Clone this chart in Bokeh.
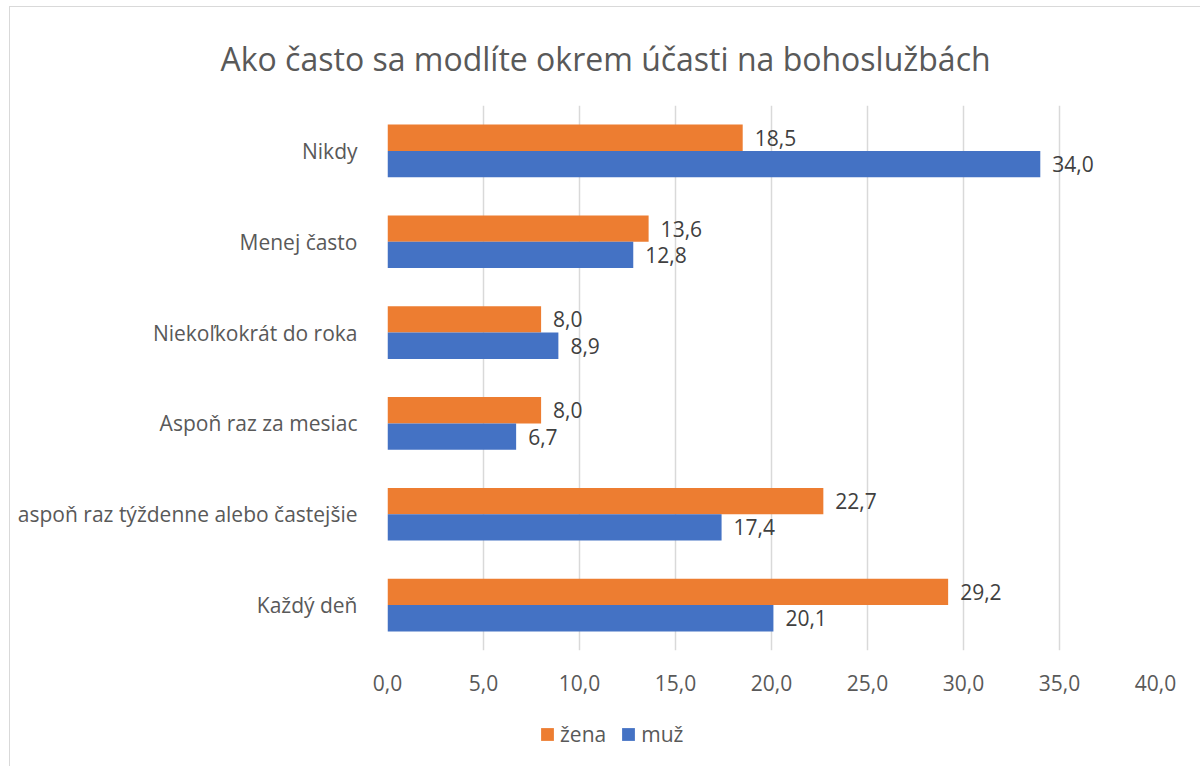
from bokeh.plotting import figure
from bokeh.layouts import column
from bokeh.models import (FactorRange, Range1d, ColumnDataSource, Legend, LegendItem,
                          CustomJSTickFormatter, FixedTicker, Title)
from bokeh.transform import dodge
from bokeh.core.properties import value
from bokeh.embed import file_html
from bokeh.resources import INLINE

categories = ["Každý deň", "aspoň raz týždenne alebo častejšie", "Aspoň raz za mesiac",
              "Niekoľkokrát do roka", "Menej často", "Nikdy"]
zena = [29.2, 22.7, 8.0, 8.0, 13.6, 18.5]
muz = [20.1, 17.4, 6.7, 8.9, 12.8, 34.0]
x_ticks = [0, 5, 10, 15, 20, 25, 30, 35, 40]
title_text = "Ako často sa modlíte okrem účasti na bohoslužbách"
series_names = ["žena", "muž"]

FONT = "Open Sans"
TXT = "#595959"
ORANGE = "#ED7D31"
BLUE = "#4472C4"

src = ColumnDataSource(dict(
    cat=categories, zena=zena, muz=muz,
    zl=[f"{v:.1f}".replace(".", ",") for v in zena],
    ml=[f"{v:.1f}".replace(".", ",") for v in muz],
))

p = figure(width=1190, height=693, y_range=FactorRange(*categories, range_padding=0),
           x_range=Range1d(0, 40), output_backend="svg", toolbar_location=None,
           min_border_left=377, min_border_right=45, min_border_top=98, min_border_bottom=50)

bh = 0.29
rz = p.hbar(y=dodge("cat", bh / 2, range=p.y_range), right="zena", left=0, height=bh,
            source=src, color=ORANGE, line_color=None)
rm = p.hbar(y=dodge("cat", -bh / 2, range=p.y_range), right="muz", left=0, height=bh,
            source=src, color=BLUE, line_color=None)

p.text(x="zena", y=dodge("cat", bh / 2, range=p.y_range), text="zl", source=src,
       x_offset=12, text_baseline="middle", text_align="left",
       text_font=value(FONT), text_font_size="21px", text_color="#404040")
p.text(x="muz", y=dodge("cat", -bh / 2, range=p.y_range), text="ml", source=src,
       x_offset=12, text_baseline="middle", text_align="left",
       text_font=value(FONT), text_font_size="21px", text_color="#404040")

p.title = Title(text=title_text, align="left", offset=-167, text_font=FONT,
                text_font_size="32px", text_font_style="normal", text_color=TXT,
                standoff=52)

p.xaxis.ticker = FixedTicker(ticks=x_ticks)
p.xaxis.formatter = CustomJSTickFormatter(code="return tick.toFixed(1).replace('.', ',');")
for ax in (p.xaxis[0], p.yaxis[0]):
    ax.axis_line_color = None
    ax.major_tick_line_color = None
    ax.minor_tick_line_color = None
    ax.major_label_text_font = FONT
    ax.major_label_text_font_size = "21px"
    ax.major_label_text_color = TXT
p.xaxis.major_label_standoff = 18
p.yaxis.major_label_standoff = 24

p.ygrid.grid_line_color = None
p.xgrid.grid_line_color = "#d9d9d9"
p.xgrid.grid_line_width = 1.5
p.outline_line_color = None

# legend strip below the chart (its frame is aligned with the chart's frame)
leg = figure(width=1190, height=66, x_range=Range1d(0, 1), y_range=Range1d(0, 1),
             output_backend="svg", toolbar_location=None,
             x_axis_location=None, y_axis_location=None,
             min_border_left=0, min_border_right=0, min_border_top=0, min_border_bottom=0)
leg.grid.visible = False
leg.outline_line_color = None
# legend swatches only: one off-screen entry each so the legend can draw them
lz = leg.hbar(y=[-10], right=[0], left=0, height=0.1, color=ORANGE, line_color=None)
lm = leg.hbar(y=[-10], right=[0], left=0, height=0.1, color=BLUE, line_color=None)
legend = Legend(items=[LegendItem(label=series_names[0], renderers=[lz]),
                       LegendItem(label=series_names[1], renderers=[lm])],
                orientation="horizontal", location=(152, 18),
                label_text_font=FONT, label_text_font_size="21px", label_text_color=TXT,
                glyph_width=16, glyph_height=16, spacing=14, label_standoff=5,
                border_line_color=None, background_fill_alpha=0, padding=0, margin=0)
leg.add_layout(legend, "center")

layout = column(p, leg, spacing=0)
layout.styles = {"margin-left": "9px", "margin-top": "6px",
                 "border-left": "1px solid #d9d9d9", "border-top": "1px solid #d9d9d9"}

open("out.html", "w").write(file_html(layout, INLINE))
